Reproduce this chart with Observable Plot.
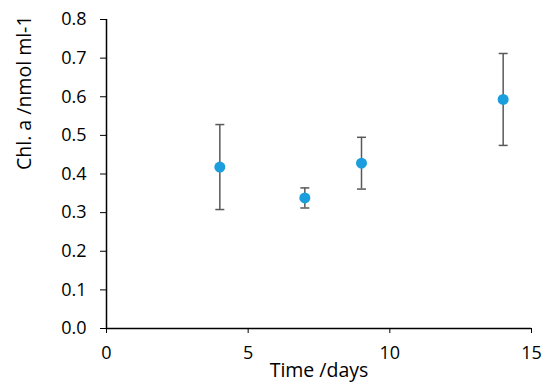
<!DOCTYPE html>
<html>
<head>
<meta charset="utf-8">
<script src="https://cdn.jsdelivr.net/npm/d3@7"></script>
<script src="https://cdn.jsdelivr.net/npm/@observablehq/plot@0.6"></script>
<style>
  html, body { margin: 0; padding: 0; background: #fff; }
  svg { display: block; }
</style>
</head>
<body>
<div id="chart"></div>
<script>
const days = [4, 7, 9, 14];
const chl = [0.418, 0.338, 0.428, 0.593];
const err = [0.110, 0.026, 0.067, 0.119];
const xTicks = [0, 5, 10, 15];
const yTicks = [0, 0.1, 0.2, 0.3, 0.4, 0.5, 0.6, 0.7, 0.8];
const xTitle = "Time /days";
const yTitle = "Chl. a /nmol ml-1";

const data = days.map((d, i) => ({day: d, v: chl[i], lo: chl[i] - err[i], hi: chl[i] + err[i]}));

const capSymbol = {
  draw(context, size) {
    const r = Math.sqrt(size / Math.PI);
    context.moveTo(-r, 0);
    context.lineTo(r, 0);
  }
};

const font = "'Open Sans', sans-serif";

const chart = Plot.plot({
  width: 550,
  height: 390,
  marginLeft: 106,
  marginRight: 19,
  marginTop: 19,
  marginBottom: 62,
  style: {fontFamily: font, fontSize: "18px", color: "#000", background: "#fff"},
  x: {domain: [0, 15]},
  y: {domain: [0, 0.8]},
  marks: [
    Plot.axisY({ticks: yTicks, tickFormat: d3.format(".1f"), tickSize: 6, tickPadding: 14, fontSize: 18,
      label: null, stroke: "#000"}),
    Plot.axisX({ticks: xTicks, tickFormat: d => d, tickSize: 5, tickPadding: 13, fontSize: 18,
      label: null, stroke: "#000"}),
    Plot.text([yTitle], {frameAnchor: "left", text: d => d, rotate: -90, dx: -89, dy: -4, lineAnchor: "top",
      fontSize: 19.5, fill: "#000"}),
    Plot.text([xTitle], {frameAnchor: "bottom", text: d => d, dy: 48, lineAnchor: "bottom",
      fontSize: 19.5, fill: "#000"}),
    Plot.ruleX([0], {y1: 0, y2: 0.8, stroke: "#000", strokeWidth: 1.5}),
    Plot.ruleY([0], {x1: 0, x2: 15, stroke: "#000", strokeWidth: 1.5}),
    Plot.ruleX(data, {x: "day", y1: "lo", y2: "hi", stroke: "#595959", strokeWidth: 1.5}),
    Plot.dot(data, {x: "day", y: "lo", symbol: capSymbol, r: 4.5, stroke: "#595959", strokeWidth: 1.5}),
    Plot.dot(data, {x: "day", y: "hi", symbol: capSymbol, r: 4.5, stroke: "#595959", strokeWidth: 1.5}),
    Plot.dot(data, {x: "day", y: "v", r: 5.5, fill: "#1a9ede", stroke: "none"})
  ]
});
document.getElementById("chart").appendChild(chart);
</script>
</body>
</html>
